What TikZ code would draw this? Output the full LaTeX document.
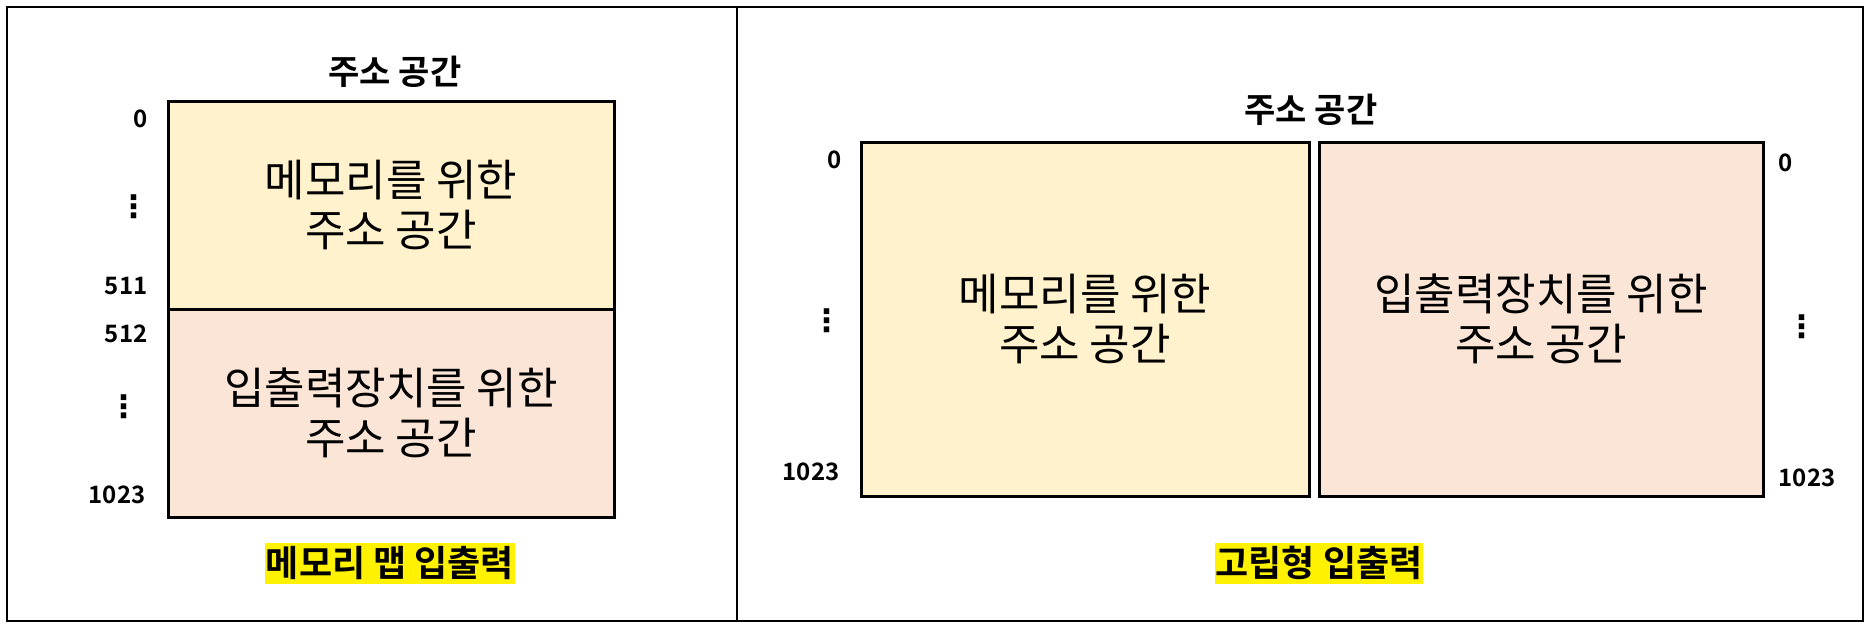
\documentclass[tikz,border=0pt]{standalone}
\usepackage{fontspec}
\setmainfont{Noto Sans CJK KR}[BoldFont={Noto Sans CJK KR Bold}]
\newfontfamily\symfont{DejaVu Sans}
\definecolor{memfill}{HTML}{FFF2CC}
\definecolor{iofill}{HTML}{FBE5D6}
\tikzset{
  area/.style={draw,line width=3pt,align=center,font=\fontsize{44}{50}\selectfont},
  addr/.style={font=\bfseries\fontsize{24}{28}\selectfont},
  dots/.style={inner sep=0pt,font=\symfont\bfseries\fontsize{31}{34}\selectfont},
  heading/.style={font=\bfseries\fontsize{34}{38}\selectfont},
  caption/.style={fill=yellow,inner xsep=1pt,inner ysep=0pt,minimum height=41pt,font=\bfseries\fontsize{36}{40}\selectfont}
}
\begin{document}
\begin{tikzpicture}[x=1pt,y=-1pt]
\useasboundingbox(0,0) rectangle (1869,627);
\draw[line width=2pt](7,7) rectangle (1863,621);
\draw[line width=2pt](737,7)--(737,621);
% memory mapped
\node[heading] (title1) at (395,72){주소 공간};
\node[area,fill=memfill,minimum width=446pt,minimum height=208pt] (mem1) at (391,205){메모리를 위한\\주소 공간};
\node[area,fill=iofill,minimum width=446pt,minimum height=208pt] (io1) at (391,413){입출력장치를 위한\\주소 공간};
\node[addr,anchor=east] (a0) at (151,119){0};
\node[dots] (d1) at (134,207){⋮};
\node[addr,anchor=east] (a511) at (151,286){511};
\node[addr,anchor=east] (a512) at (151,334){512};
\node[dots] (d2) at (124,407){⋮};
\node[addr,anchor=east] (a1023) at (149,495){1023};
\node[caption] (cap1) at (390,563){메모리 맵 입출력};
% isolated
\node[heading] (title2) at (1311,110){주소 공간};
\node[area,fill=memfill,minimum width=448pt,minimum height=354pt] (mem2) at (1085,319){메모리를 위한\\주소 공간};
\node[area,fill=iofill,minimum width=444pt,minimum height=354pt] (io2) at (1541,319){입출력장치를 위한\\주소 공간};
\node[addr] (b0) at (835,160){0};
\node[dots] (d3) at (827,321){⋮};
\node[addr,anchor=east] (b1023) at (843,472){1023};
\node[addr] (c0) at (1786,163){0};
\node[dots] (d4) at (1802,327){⋮};
\node[addr] (c1023) at (1807,478){1023};
\node[caption] (cap2) at (1319,563){고립형 입출력};
\end{tikzpicture}
\end{document}
